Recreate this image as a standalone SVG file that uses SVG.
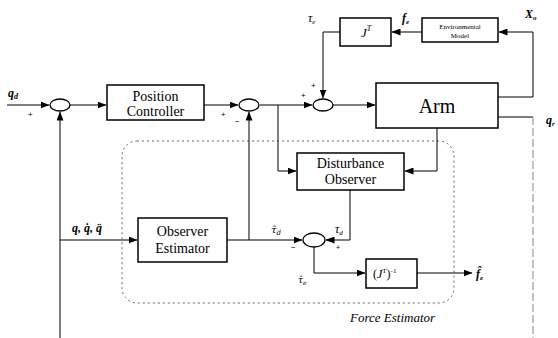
<svg xmlns="http://www.w3.org/2000/svg" width="558" height="338" viewBox="0 0 558 338">
<style>
.box{fill:#fff;stroke:#000;stroke-width:1.5}
.sum{fill:#fff;stroke:#000;stroke-width:1.3}
.ln{fill:none;stroke:#000;stroke-width:1}
.t{font-family:"Liberation Serif",serif;font-size:14px;fill:#000;text-anchor:middle}
.lb{font-family:"Liberation Serif",serif;font-style:italic;font-weight:bold;font-size:12px;fill:#000}
.tau{font-family:"Liberation Serif",serif;font-style:italic;font-size:12px;fill:#000}
.tauh{font-family:"DejaVu Serif",serif;font-style:italic;font-size:10px;fill:#000}
.sg{font-family:"Liberation Sans",sans-serif;font-size:8px;fill:#000}
</style>
<defs>
<marker id="ah" markerWidth="9" markerHeight="7" refX="8.5" refY="3.5" orient="auto" markerUnits="userSpaceOnUse">
<path d="M0,0 L9,3.5 L0,7 Z" fill="#000"/>
</marker>
</defs>
<rect width="558" height="338" fill="#fff"/>
<g id="force-estimator-region">
<rect x="122" y="141" width="332" height="162" rx="15" ry="15" fill="none" stroke="#555" stroke-width="0.9" stroke-dasharray="2,3"/>
<text x="350" y="322" style="font-family:'Liberation Serif',serif;font-style:italic;font-size:13px" fill="#000">Force Estimator</text>
</g>
<g id="connectors">
<path class="ln" d="M7,105 L49,105" marker-end="url(#ah)"/>
<path class="ln" d="M70,105 L106,105" marker-end="url(#ah)"/>
<path class="ln" d="M204,105 L238,105" marker-end="url(#ah)"/>
<path class="ln" d="M260,105 L312,105" marker-end="url(#ah)"/>
<path class="ln" d="M333,105 L375,105" marker-end="url(#ah)"/>
<path class="ln" d="M60,338 L60,112" marker-end="url(#ah)"/>
<path class="ln" d="M60,240 L137,240" marker-end="url(#ah)"/>
<path class="ln" d="M227,240 L302,240" marker-end="url(#ah)"/>
<path class="ln" d="M249,240 L249,112" marker-end="url(#ah)"/>
<path class="ln" d="M278,105 L278,171 L296,171" marker-end="url(#ah)"/>
<path class="ln" d="M437,128 L437,171 L405,171" marker-end="url(#ah)"/>
<path class="ln" d="M350,190 L350,240 L326,240" marker-end="url(#ah)"/>
<path class="ln" d="M314,247 L314,273 L365,273" marker-end="url(#ah)"/>
<path class="ln" d="M417,273 L472,273" marker-end="url(#ah)"/>
<path class="ln" d="M498,97 L533,97 L533,32 L499,32" marker-end="url(#ah)"/>
<path class="ln" d="M422,32 L392,32" marker-end="url(#ah)"/>
<path class="ln" d="M340,32 L323,32 L323,98" marker-end="url(#ah)"/>
<path class="ln" d="M498,117 L533,117"/>
<path d="M533,117 L533,338" fill="none" stroke="#888" stroke-width="1" stroke-dasharray="8,3"/>
</g>
<g id="sum1"><ellipse class="sum" cx="60" cy="105" rx="10" ry="6"/></g>
<g id="sum2"><ellipse class="sum" cx="249" cy="105" rx="10" ry="6"/></g>
<g id="sum3"><ellipse class="sum" cx="323" cy="105" rx="10" ry="6"/></g>
<g id="sum4"><ellipse class="sum" cx="314" cy="240" rx="11" ry="7"/></g>
<g id="position-controller">
<rect class="box" x="107" y="85" width="97" height="35"/>
<text class="t" x="155.5" y="101">Position</text>
<text class="t" x="155.5" y="116">Controller</text>
</g>
<g id="arm">
<rect class="box" x="376" y="83" width="122" height="45"/>
<text class="t" x="437" y="113" style="font-size:20px">Arm</text>
</g>
<g id="jt">
<rect class="box" x="340" y="18" width="51" height="28"/>
<text x="361" y="37" style="font-family:'Liberation Serif',serif;font-style:italic;font-size:13px">J<tspan dy="-6" font-size="8">T</tspan></text>
</g>
<g id="environmental-model">
<rect class="box" x="422" y="18" width="76" height="24"/>
<text class="t" x="460" y="29" style="font-size:7px">Environmental</text>
<text class="t" x="460" y="38" style="font-size:7px">Model</text>
</g>
<g id="disturbance-observer">
<rect class="box" x="297" y="153" width="107" height="37"/>
<text class="t" x="350.5" y="168">Disturbance</text>
<text class="t" x="350.5" y="184">Observer</text>
</g>
<g id="observer-estimator">
<rect class="box" x="138" y="218" width="89" height="44"/>
<text class="t" x="182.5" y="236">Observer</text>
<text class="t" x="182.5" y="253">Estimator</text>
</g>
<g id="jt-inverse">
<rect class="box" x="366" y="259" width="51" height="29"/>
<text x="373" y="278" style="font-family:'Liberation Serif',serif;font-size:12px">(<tspan font-style="italic">J</tspan><tspan dy="-5" font-size="7">T</tspan><tspan dy="5">)</tspan><tspan dy="-5" font-size="7">-1</tspan></text>
</g>
<g id="labels">
<text class="lb" x="8" y="97">q<tspan dy="2" font-size="8">d</tspan></text>
<text class="sg" x="28" y="117">+</text>
<text class="sg" x="221" y="117">+</text>
<text class="sg" x="235" y="124">−</text>
<text class="sg" x="301" y="98">+</text>
<text class="sg" x="311" y="88">+</text>
<text class="tau" x="308" y="22">τ<tspan dy="2" font-size="7">e</tspan></text>
<text class="lb" x="402" y="22">f<tspan dy="2" font-size="7">e</tspan></text>
<text class="lb" x="525" y="18">X<tspan dy="2" font-size="7">o</tspan></text>
<text class="lb" x="546" y="124">q<tspan dy="2" font-size="7">r</tspan></text>
<text class="lb" x="72" y="232">q, q̇, q̈</text>
<text class="tauh" x="271" y="233">τ̂<tspan dy="2" font-size="7">d</tspan></text>
<text class="tau" x="335" y="233">τ<tspan dy="2" font-size="7">d</tspan></text>
<text class="sg" x="291" y="250">−</text>
<text class="sg" x="336" y="250" style="font-size:7px">+</text>
<text class="tauh" x="298" y="283" style="font-size:9px">τ̂<tspan dy="2" font-size="6">e</tspan></text>
<text class="lb" x="476" y="278">f̂<tspan dy="2" font-size="7">e</tspan></text>
</g>
</svg>
